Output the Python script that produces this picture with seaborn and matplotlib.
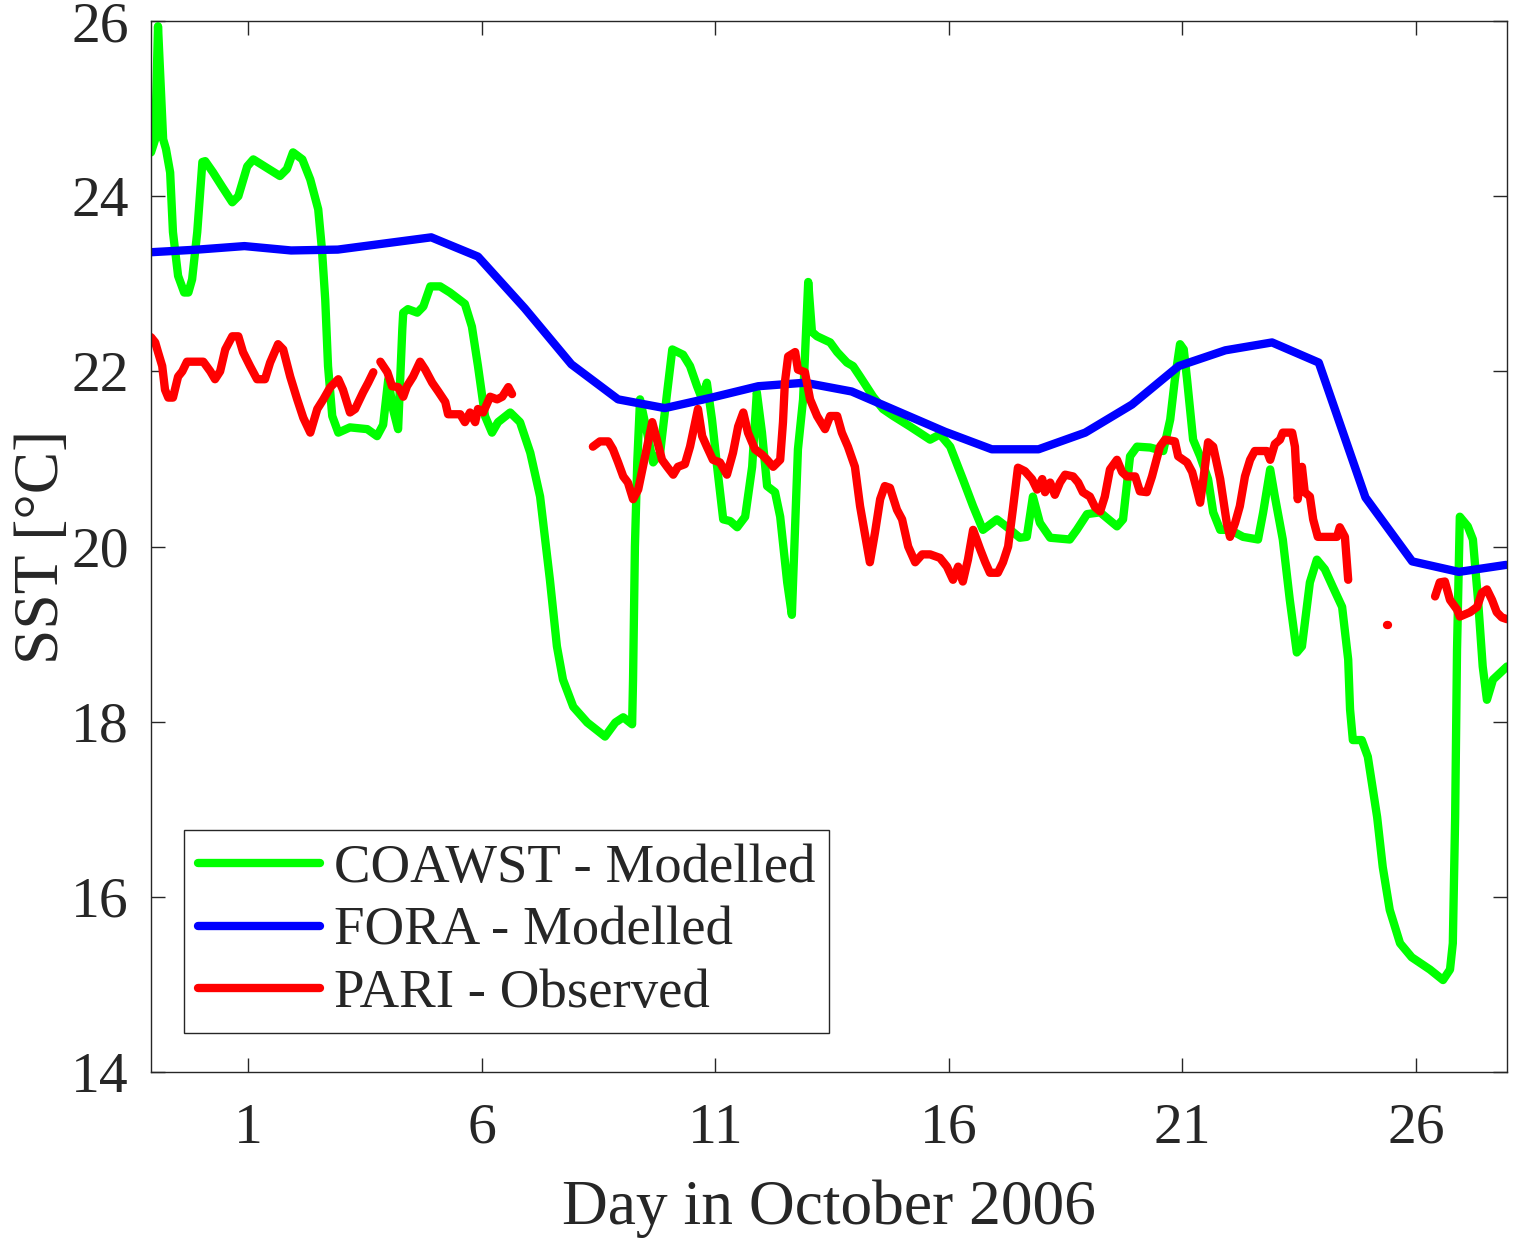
import numpy as np
import pandas as pd
import matplotlib
matplotlib.use("Agg")
import matplotlib.pyplot as plt
from matplotlib.lines import Line2D
import seaborn as sns

# === Données (jour d'octobre 2006, SST en °C) ===
coawst_day = [-1.08, -0.99, -0.93, -0.86, -0.82, -0.76, -0.67, -0.61, -0.50, -0.37,
              -0.28, -0.20, -0.09, 0.02, 0.08, 0.25, 0.44, 0.66, 0.79, 0.98,
              1.11, 1.68, 1.83, 1.96, 2.16, 2.33, 2.50, 2.58, 2.65, 2.71,
              2.80, 2.93, 3.18, 3.55, 3.76, 3.89, 4.00, 4.10, 4.21, 4.30,
              4.32, 4.42, 4.62, 4.75, 4.90, 5.11, 5.32, 5.64, 5.79, 5.92,
              6.07, 6.22, 6.35, 6.61, 6.82, 7.04, 7.25, 7.46, 7.61, 7.74,
              7.96, 8.26, 8.64, 8.86, 9.03, 9.22, 9.24, 9.28, 9.33, 9.39,
              9.54, 9.67, 9.82, 9.97, 10.08, 10.31, 10.46, 10.61, 10.72, 10.82,
              10.93, 11.04, 11.17, 11.32, 11.47, 11.64, 11.79, 11.89, 12.00, 12.11,
              12.28, 12.39, 12.54, 12.64, 12.77, 12.88, 12.99, 13.07, 13.18, 13.46,
              13.61, 13.82, 13.95, 14.10, 14.38, 14.59, 14.81, 15.17, 15.60, 15.81,
              16.03, 16.30, 16.52, 16.73, 17.03, 17.25, 17.52, 17.67, 17.80, 17.95,
              18.17, 18.59, 18.74, 18.96, 19.24, 19.60, 19.73, 19.88, 20.03, 20.31,
              20.59, 20.74, 20.84, 20.95, 21.03, 21.10, 21.23, 21.38, 21.55, 21.66,
              21.81, 22.02, 22.30, 22.62, 22.73, 22.88, 22.98, 23.15, 23.30, 23.45,
              23.56, 23.73, 23.88, 24.05, 24.22, 24.42, 24.55, 24.59, 24.65, 24.84,
              24.97, 25.17, 25.29, 25.44, 25.66, 25.91, 26.30, 26.58, 26.73, 26.79,
              26.84, 26.88, 26.94, 27.11, 27.22, 27.33, 27.43, 27.52, 27.65, 27.95]
coawst_sst = [24.50, 24.65, 25.94, 25.11, 24.65, 24.54, 24.27, 23.59, 23.09, 22.90,
              22.90, 23.05, 23.59, 24.39, 24.40, 24.27, 24.11, 23.93, 24.00, 24.34,
              24.42, 24.23, 24.31, 24.50, 24.42, 24.19, 23.85, 23.39, 22.82, 22.06,
              21.49, 21.30, 21.36, 21.34, 21.26, 21.39, 21.91, 21.57, 21.34, 22.48,
              22.67, 22.71, 22.67, 22.74, 22.97, 22.97, 22.90, 22.77, 22.51, 22.06,
              21.49, 21.30, 21.42, 21.53, 21.42, 21.07, 20.57, 19.62, 18.86, 18.48,
              18.17, 17.99, 17.83, 17.99, 18.05, 17.97, 18.48, 20.00, 20.96, 21.68,
              21.30, 20.96, 21.07, 21.76, 22.25, 22.19, 22.06, 21.83, 21.68, 21.87,
              21.45, 20.91, 20.31, 20.29, 20.22, 20.34, 20.91, 21.76, 21.30, 20.69,
              20.62, 20.34, 19.59, 19.22, 21.11, 21.68, 23.02, 22.45, 22.40, 22.33,
              22.22, 22.10, 22.06, 21.94, 21.71, 21.57, 21.49, 21.37, 21.22, 21.28,
              21.14, 20.77, 20.46, 20.19, 20.31, 20.22, 20.10, 20.11, 20.57, 20.27,
              20.10, 20.08, 20.19, 20.37, 20.39, 20.23, 20.31, 21.03, 21.14, 21.13,
              21.09, 21.45, 21.91, 22.31, 22.25, 21.91, 21.22, 21.03, 20.77, 20.39,
              20.19, 20.19, 20.11, 20.08, 20.39, 20.88, 20.57, 20.08, 19.39, 18.79,
              18.86, 19.59, 19.85, 19.74, 19.54, 19.31, 18.71, 18.14, 17.79, 17.79,
              17.60, 16.91, 16.34, 15.85, 15.47, 15.31, 15.17, 15.05, 15.17, 15.47,
              16.91, 18.82, 20.34, 20.23, 20.08, 19.39, 18.63, 18.25, 18.48, 18.63]

fora_day = [-1.08, -0.08, 0.92, 1.92, 2.92, 3.92, 4.92, 5.92, 6.92, 7.92,
            8.92, 9.92, 10.92, 11.92, 12.92, 13.92, 14.92, 15.92, 16.92, 17.92,
            18.92, 19.92, 20.92, 21.92, 22.92, 23.92, 24.92, 25.92, 26.92, 27.93]
fora_sst = [23.36, 23.39, 23.43, 23.38, 23.39, 23.46, 23.53, 23.31, 22.72, 22.08,
            21.68, 21.58, 21.70, 21.83, 21.87, 21.77, 21.54, 21.31, 21.11, 21.11,
            21.30, 21.62, 22.06, 22.24, 22.33, 22.10, 20.56, 19.83, 19.71, 19.79]

# PARI : observations avec trous (np.nan = coupure de la courbe)
pari_day = [-1.08, -0.99, -0.93, -0.84, -0.78, -0.71, -0.61, -0.50, -0.41, -0.31,
            0.04, 0.19, 0.29, 0.40, 0.51, 0.66, 0.79, 0.89, 1.04, 1.19,
            1.36, 1.47, 1.64, 1.75, 1.90, 2.05, 2.18, 2.33, 2.48, 2.61,
            2.76, 2.93, 3.03, 3.18, 3.29, 3.46, 3.57, 3.68, np.nan,
            3.83, 3.98, 4.08, 4.21, 4.32, 4.40, 4.53, 4.68, 4.79, 4.94,
            5.07, 5.22, 5.28, 5.54, 5.64, 5.75, 5.86, 5.92, 6.03, 6.18,
            6.33, 6.44, 6.57, 6.65, np.nan,
            8.38, 8.53, 8.71, 8.81, 8.92, 9.03, 9.13, 9.24, 9.35, 9.45,
            9.56, 9.65, 9.75, 9.86, 9.97, 10.10, 10.20, 10.35, 10.46, 10.57,
            10.63, 10.72, 10.82, 10.95, 11.10, 11.25, 11.38, 11.49, 11.60, 11.70,
            11.85, 12.00, 12.11, 12.24, 12.39, 12.45, 12.49, 12.56, 12.71, 12.77,
            12.92, 13.03, 13.18, 13.35, 13.46, 13.61, 13.71, 13.84, 13.99, 14.10,
            14.25, 14.31, 14.42, 14.53, 14.63, 14.74, 14.89, 15.00, 15.13, 15.28,
            15.43, 15.60, 15.81, 15.96, 16.09, 16.20, 16.30, 16.41, 16.52, 16.67,
            16.78, 16.88, 17.05, 17.16, 17.27, 17.37, 17.48, 17.63, 17.78, 17.89,
            18.00, 18.06, 18.17, 18.27, 18.38, 18.49, 18.66, 18.77, 18.87, 19.02,
            19.13, 19.24, 19.34, 19.45, 19.60, 19.71, 19.81, 19.99, 20.09, 20.24,
            20.35, 20.52, 20.63, 20.84, 20.91, 21.10, 21.21, 21.31, 21.38, 21.44,
            21.55, 21.66, 21.81, 21.95, 22.02, 22.13, 22.23, 22.34, 22.45, 22.55,
            22.81, 22.88, 22.98, 23.09, 23.15, 23.35, 23.41, 23.47, 23.56, 23.62,
            23.73, 23.80, 23.90, 24.12, 24.31, 24.37, 24.48, 24.55, np.nan,
            25.39, 25.41, np.nan,
            26.41, 26.51, 26.62, 26.73, 26.88, 26.94, 27.16, 27.31, 27.41, 27.52,
            27.63, 27.73, 27.84, 27.95]
pari_sst = [22.39, 22.33, 22.22, 22.06, 21.79, 21.70, 21.70, 21.94, 22.00, 22.11,
            22.11, 22.00, 21.91, 22.00, 22.25, 22.40, 22.40, 22.22, 22.06, 21.91,
            21.91, 22.10, 22.31, 22.25, 21.94, 21.68, 21.47, 21.30, 21.57, 21.68,
            21.82, 21.91, 21.79, 21.53, 21.57, 21.76, 21.87, 21.99, np.nan,
            22.11, 21.99, 21.83, 21.82, 21.71, 21.83, 21.94, 22.11, 22.02, 21.87,
            21.77, 21.65, 21.51, 21.51, 21.42, 21.53, 21.42, 21.57, 21.53, 21.71,
            21.68, 21.71, 21.82, 21.74, np.nan,
            21.14, 21.20, 21.20, 21.11, 20.96, 20.80, 20.73, 20.54, 20.65, 20.91,
            21.19, 21.42, 21.22, 20.99, 20.91, 20.82, 20.91, 20.94, 21.14, 21.42,
            21.57, 21.26, 21.14, 20.99, 20.96, 20.82, 21.07, 21.37, 21.53, 21.30,
            21.11, 21.05, 20.99, 20.91, 20.99, 21.42, 21.87, 22.17, 22.22, 22.02,
            21.99, 21.68, 21.49, 21.34, 21.49, 21.49, 21.30, 21.14, 20.91, 20.46,
            20.00, 19.82, 20.16, 20.54, 20.69, 20.67, 20.42, 20.31, 20.00, 19.82,
            19.91, 19.91, 19.87, 19.77, 19.62, 19.77, 19.60, 19.85, 20.19, 19.97,
            19.82, 19.70, 19.70, 19.82, 20.00, 20.42, 20.90, 20.86, 20.77, 20.65,
            20.77, 20.62, 20.73, 20.59, 20.73, 20.82, 20.80, 20.73, 20.62, 20.57,
            20.45, 20.40, 20.57, 20.88, 20.99, 20.85, 20.80, 20.80, 20.63, 20.62,
            20.80, 21.14, 21.22, 21.20, 21.03, 20.96, 20.85, 20.65, 20.50, 20.73,
            21.19, 21.14, 20.77, 20.27, 20.11, 20.27, 20.46, 20.80, 20.99, 21.09,
            21.09, 20.99, 21.17, 21.22, 21.30, 21.30, 21.14, 20.54, 20.91, 20.62,
            20.57, 20.31, 20.11, 20.11, 20.11, 20.22, 20.11, 19.62, np.nan,
            19.10, 19.10, np.nan,
            19.43, 19.59, 19.60, 19.39, 19.28, 19.20, 19.25, 19.31, 19.47, 19.51,
            19.39, 19.25, 19.19, 19.17]

series_names = ["COAWST - Modelled", "FORA - Modelled", "PARI - Observed"]
series_colors = ["#00ff00", "#0000ff", "#ff0000"]
x_ticks = [1, 6, 11, 16, 21, 26]
y_ticks = [14, 16, 18, 20, 22, 24, 26]


def to_frame(name, days, sst):
    df = pd.DataFrame({"day": days, "sst": sst})
    # un segment par morceau continu (coupé aux NaN)
    df["seg"] = name + "_" + df["sst"].isna().cumsum().astype(str)
    df["series"] = name
    return df.dropna()


data = pd.concat([
    to_frame(series_names[0], coawst_day, coawst_sst),
    to_frame(series_names[1], fora_day, fora_sst),
    to_frame(series_names[2], pari_day, pari_sst),
], ignore_index=True)

sns.set_style("white")
plt.rcParams["font.family"] = ["Liberation Serif", "DejaVu Serif"]

ink = "#262626"
lw = 6.0

fig = plt.figure(figsize=(15.14, 12.39), dpi=100)
ax = fig.add_axes([151 / 1514, 1 - 1072 / 1239, 1356 / 1514, 1051 / 1239])

sns.lineplot(data=data, x="day", y="sst", hue="series", units="seg",
             estimator=None, sort=False, hue_order=series_names,
             palette=dict(zip(series_names, series_colors)),
             linewidth=lw, solid_joinstyle="round", legend=False, ax=ax)

ax.set_xlim(-1.08, 27.95)
ax.set_ylim(14, 26)
ax.set_xticks(x_ticks)
ax.set_yticks(y_ticks)
ax.tick_params(direction="in", length=10, width=1.0, colors=ink,
               labelsize=41.5, top=True, right=True, bottom=True, left=True)
ax.tick_params(axis="x", pad=22)
ax.tick_params(axis="y", pad=16)
for s in ax.spines.values():
    s.set_color(ink)
    s.set_linewidth(1.0)

ax.set_xlabel("Day in October 2006", fontsize=45.7, color=ink, labelpad=18)
ax.set_ylabel("SST [°C]", fontsize=45.7, color=ink, labelpad=-1)

handles = [Line2D([], [], color=c, linewidth=lw) for c in series_colors]
leg = ax.legend(handles, series_names, loc="lower left",
                bbox_to_anchor=(33 / 1356, 39 / 1051), borderaxespad=0,
                fontsize=39.4, frameon=True, fancybox=False, shadow=False,
                framealpha=1, edgecolor=ink, handlelength=2.24,
                handletextpad=0.25, borderpad=0.25, labelspacing=0.22)
leg.get_frame().set_linewidth(1.0)

fig.savefig("out.png", dpi=100)
